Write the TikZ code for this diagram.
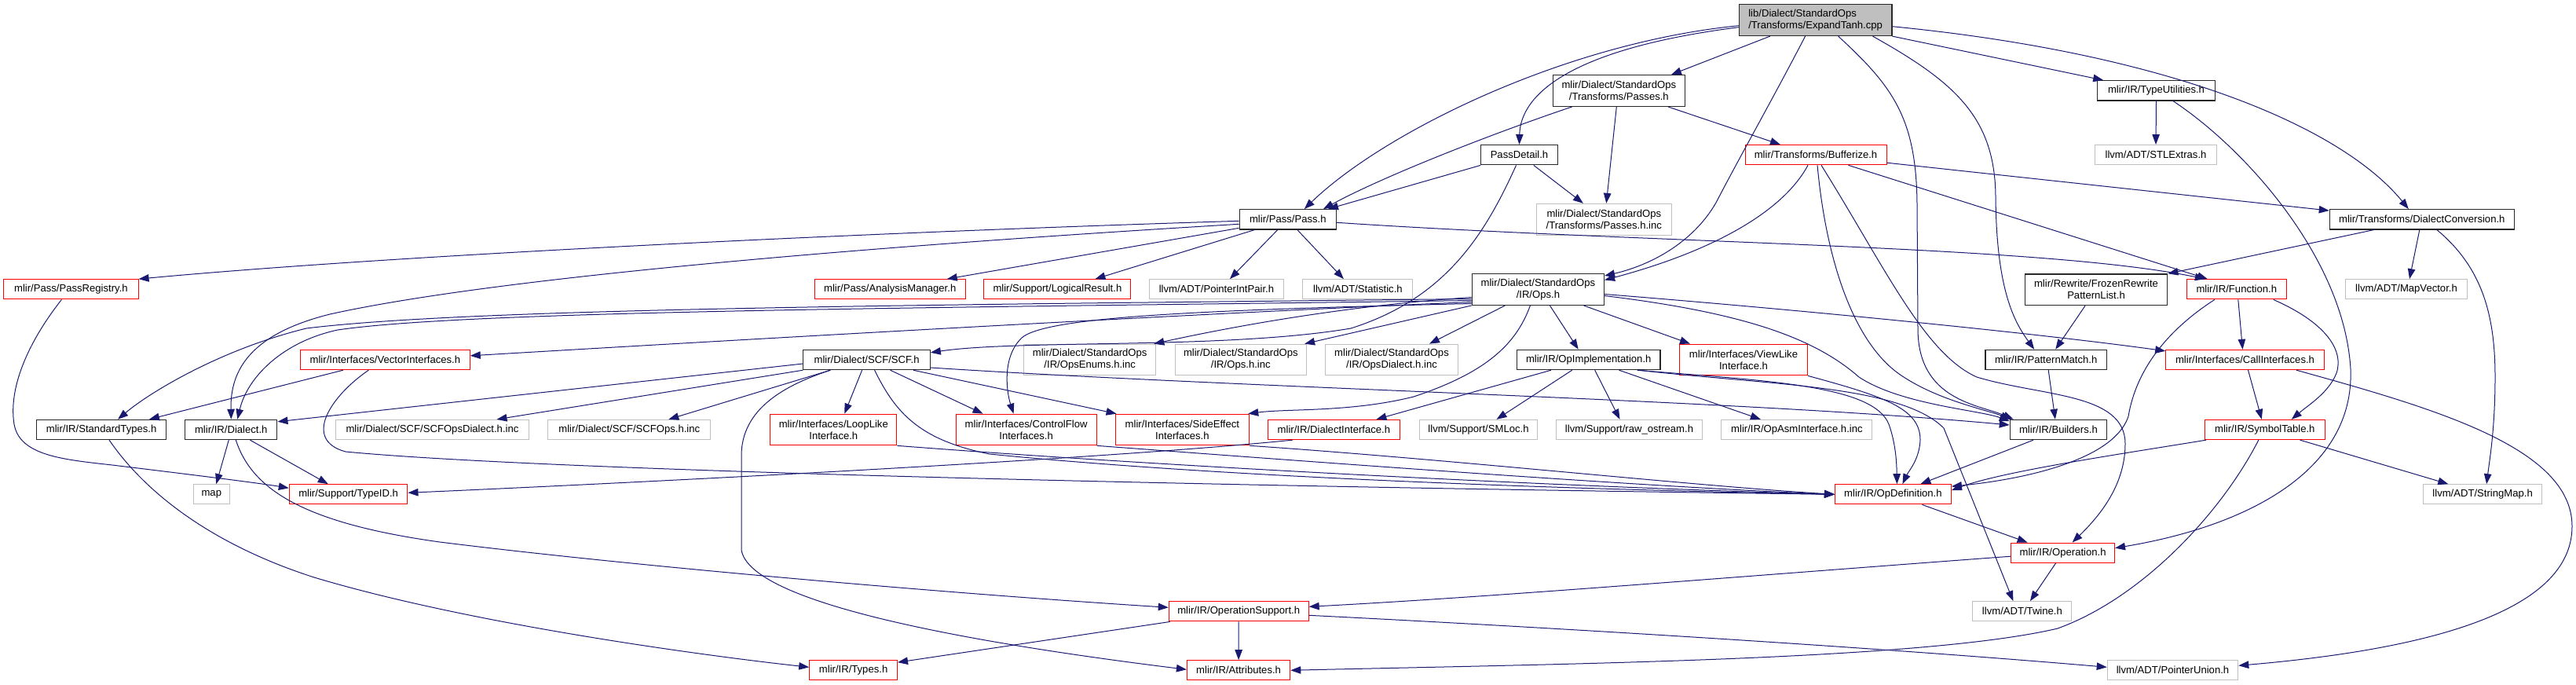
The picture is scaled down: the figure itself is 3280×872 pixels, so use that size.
\documentclass[tikz,border=0pt]{standalone}
\usepackage{fontspec}
\setmainfont{Liberation Sans}
\usetikzlibrary{arrows.meta,calc}
\definecolor{edgec}{RGB}{25,25,112}
\definecolor{greyb}{RGB}{191,191,191}
\definecolor{redb}{RGB}{255,0,0}
\definecolor{blackb}{RGB}{40,40,40}
\begin{document}
\begin{tikzpicture}[x=1pt,y=-1pt,
  nb/.style={rectangle, inner xsep=2pt, inner ysep=0pt, minimum height=25.3pt, font=\fontsize{13.1pt}{15pt}\selectfont, align=center, line width=1pt, fill=white},
  bk/.style={nb, draw=blackb, line width=1.15pt},
  rd/.style={nb, draw=redb},
  gy/.style={nb, draw=greyb},
  two/.style={minimum height=39.7pt},
  dep/.style={draw=edgec, line width=1pt, -{Triangle[length=13pt,width=9.5pt]}},
]
\useasboundingbox (0,0) rectangle (3280,872);
% ---------- nodes ----------
\node[bk, two, fill=greyb, align=left, minimum width=194.6pt] (root) at (2311.6,25.7) {lib/Dialect/StandardOps\\/Transforms/ExpandTanh.cpp};
\node[bk, two, minimum width=168pt] (passes) at (2061.3,115.5) {mlir/Dialect/StandardOps\\/Transforms/Passes.h};
\node[bk, minimum width=149.5pt] (typeutil) at (2745.5,115.3) {mlir/IR/TypeUtilities.h};
\node[bk, minimum width=97.5pt] (passdetail) at (1934.5,197.2) {PassDetail.h};
\node[rd, minimum width=180pt] (bufferize) at (2312,197.2) {mlir/Transforms/Bufferize.h};
\node[gy, minimum width=154.5pt] (stlextras) at (2745,197.2) {llvm/ADT/STLExtras.h};
\node[bk, minimum width=123.2pt] (pass) at (1639.8,279.3) {mlir/Pass/Pass.h};
\node[gy, two, minimum width=171.8pt] (passesinc) at (2042.3,279.2) {mlir/Dialect/StandardOps\\/Transforms/Passes.h.inc};
\node[bk, minimum width=235pt] (dialectconv) at (3083.8,279.3) {mlir/Transforms/DialectConversion.h};
\node[rd, minimum width=171.4pt] (passregistry) at (90.4,368.3) {mlir/Pass/PassRegistry.h};
\node[rd, minimum width=192.2pt] (analysis) at (1133.2,368.3) {mlir/Pass/AnalysisManager.h};
\node[rd, minimum width=187.1pt] (logical) at (1346.4,368.3) {mlir/Support/LogicalResult.h};
\node[gy, minimum width=171.4pt] (ptrintpair) at (1548.9,368.3) {llvm/ADT/PointerIntPair.h};
\node[gy, minimum width=140pt] (statistic) at (1728.9,368.3) {llvm/ADT/Statistic.h};
\node[bk, two, minimum width=168.2pt] (opsh) at (1958.4,368.5) {mlir/Dialect/StandardOps\\/IR/Ops.h};
\node[bk, two, minimum width=181.7pt] (frozen) at (2669,368.8) {mlir/Rewrite/FrozenRewrite\\PatternList.h};
\node[rd, minimum width=126.9pt] (function) at (2847.8,368.3) {mlir/IR/Function.h};
\node[gy, minimum width=154.6pt] (mapvector) at (3064,368.3) {llvm/ADT/MapVector.h};
\node[rd, minimum width=215.7pt] (vectorif) at (490.4,458) {mlir/Interfaces/VectorInterfaces.h};
\node[bk, minimum width=161.4pt] (scf) at (1103.6,458) {mlir/Dialect/SCF/SCF.h};
\node[gy, two, minimum width=168.2pt] (opsenums) at (1387.7,458) {mlir/Dialect/StandardOps\\/IR/OpsEnums.h.inc};
\node[gy, two, minimum width=167.6pt] (opsinc) at (1579.8,458) {mlir/Dialect/StandardOps\\/IR/Ops.h.inc};
\node[gy, two, minimum width=168.2pt] (opsdialect) at (1772,458) {mlir/Dialect/StandardOps\\/IR/OpsDialect.h.inc};
\node[bk, minimum width=182.5pt] (opimpl) at (2022.7,458) {mlir/IR/OpImplementation.h};
\node[rd, two, minimum width=162.8pt] (viewlike) at (2220,458) {mlir/Interfaces/ViewLike\\Interface.h};
\node[bk, minimum width=154.6pt] (patternmatch) at (2605.2,458) {mlir/IR/PatternMatch.h};
\node[rd, minimum width=201.6pt] (callif) at (2858.5,458) {mlir/Interfaces/CallInterfaces.h};
\node[bk, minimum width=164.6pt] (standardtypes) at (129.1,547) {mlir/IR/StandardTypes.h};
\node[bk, minimum width=117.2pt] (dialecth) at (294.3,547) {mlir/IR/Dialect.h};
\node[gy, minimum width=246.8pt] (scfopsdialect) at (550.5,547) {mlir/Dialect/SCF/SCFOpsDialect.h.inc};
\node[gy, minimum width=206.7pt] (scfops) at (801.3,547) {mlir/Dialect/SCF/SCFOps.h.inc};
\node[rd, two, minimum width=161.1pt] (looplike) at (1061.3,547) {mlir/Interfaces/LoopLike\\Interface.h};
\node[rd, two, minimum width=179pt] (controlflow) at (1306.6,547) {mlir/Interfaces/ControlFlow\\Interfaces.h};
\node[rd, two, minimum width=170.7pt] (sideeffect) at (1505.4,547) {mlir/Interfaces/SideEffect\\Interfaces.h};
\node[rd, minimum width=168.2pt] (dialectif) at (1698.4,547) {mlir/IR/DialectInterface.h};
\node[gy, minimum width=150.8pt] (smloc) at (1882.5,547) {llvm/Support/SMLoc.h};
\node[gy, minimum width=185.3pt] (rawostream) at (2074.5,547) {llvm/Support/raw\_ostream.h};
\node[gy, minimum width=192.1pt] (opasm) at (2287.9,547) {mlir/IR/OpAsmInterface.h.inc};
\node[bk, minimum width=123.2pt] (builders) at (2620.9,547) {mlir/IR/Builders.h};
\node[rd, minimum width=152.4pt] (symboltable) at (2883.8,547) {mlir/IR/SymbolTable.h};
\node[gy, minimum width=46.4pt] (map) at (269.3,629.3) {map};
\node[rd, minimum width=150.7pt] (typeid) at (443.6,629.3) {mlir/Support/TypeID.h};
\node[rd, minimum width=147.9pt] (opdefinition) at (2410.4,629.3) {mlir/IR/OpDefinition.h};
\node[gy, minimum width=150.6pt] (stringmap) at (3161.1,629.3) {llvm/ADT/StringMap.h};
\node[rd, minimum width=131.8pt] (operation) at (2626.6,703.7) {mlir/IR/Operation.h};
\node[rd, minimum width=177.9pt] (opsupport) at (1577.2,778.3) {mlir/IR/OperationSupport.h};
\node[gy, minimum width=126.1pt] (twine) at (2574.9,778.3) {llvm/ADT/Twine.h};
\node[rd, minimum width=111.8pt] (types) at (1086.6,853.3) {mlir/IR/Types.h};
\node[rd, minimum width=131.4pt] (attributes) at (1577.1,853.3) {mlir/IR/Attributes.h};
\node[gy, minimum width=166.6pt] (pointerunion) at (2766.5,853.3) {llvm/ADT/PointerUnion.h};
% ---------- edges ----------
% root
\draw[dep] ($(root.west)+(0,7)$) .. controls (1990,55) and (1760,170) .. ($(pass.north)+(21,0)$);
\draw[dep] ($(root.west)+(0,9)$) .. controls (2000,62) and (1936,120) .. (passdetail.north);
\draw[dep] ($(root.south west)+(40,0)$) -- ($(passes.north east)+(-18,0)$);
\draw[dep] ($(root.south)+(-13,0)$) .. controls (2255,130) and (2215,200) .. (2185,258) .. controls (2155,310) and (2100,338) .. ($(opsh.north east)+(0,3)$);
\draw[dep] (root.south east) -- ($(typeutil.north west)+(8,0)$);
\draw[dep] ($(root.east)+(0,8)$) .. controls (2760,68) and (2980,160) .. ($(dialectconv.north)+(-17,0)$);
\draw[dep] ($(root.south)+(29,0)$) .. controls (2410,110) and (2440,150) .. (2441,260) -- (2442,420) .. controls (2443,510) and (2520,515) .. ($(builders.north west)+(5,0)$);
\draw[dep] ($(root.south east)+(-25,0)$) .. controls (2490,105) and (2540,150) .. (2541,250) .. controls (2542,370) and (2565,410) .. ($(patternmatch.north)+(-15,0)$);
% passes / passdetail
\draw[dep] ($(passes.south west)+(25,0)$) .. controls (1900,170) and (1760,225) .. ($(pass.north east)+(-17,0)$);
\draw[dep] ($(passes.south)+(-3,0)$) -- ($(passesinc.north)+(3,0)$);
\draw[dep] ($(passes.south east)+(-22,0)$) -- ($(bufferize.north)+(-45,0)$);
\draw[dep] (passdetail.south west) -- ($(pass.north east)+(-11,0)$);
\draw[dep] ($(passdetail.south east)+(-31,0)$) -- ($(passesinc.north west)+(60,0)$);
\draw[dep] ($(passdetail.south)+(-4,0)$) .. controls (1890,300) and (1840,380) .. (1720,418) .. controls (1560,445) and (1300,432) .. ($(scf.north east)+(0,4)$);
% bufferize
\draw[dep] ($(bufferize.south)+(-10,0)$) .. controls (2270,270) and (2180,320) .. ($(opsh.east)+(0,-12)$);
\draw[dep] ($(bufferize.south)+(2,0)$) .. controls (2325,330) and (2360,440) .. (2424,480) .. controls (2470,510) and (2530,522) .. ($(builders.north west)+(2,0)$);
\draw[dep] ($(bufferize.south)+(7,0)$) .. controls (2400,340) and (2450,450) .. (2517,480) .. controls (2600,505) and (2706,500) .. (2706,565) .. controls (2706,620) and (2670,660) .. ($(operation.north)+(12,0)$);
\draw[dep] ($(bufferize.south east)+(-49,0)$) -- ($(function.north west)+(27,0)$);
\draw[dep] ($(bufferize.east)+(0,10)$) -- ($(dialectconv.north west)+(0,2)$);
% pass
\draw[dep] ($(pass.east)+(0,4)$) .. controls (2100,310) and (2600,312) .. ($(function.north west)+(24,0)$);
\draw[dep] ($(pass.west)+(0,2)$) .. controls (1100,296) and (500,325) .. (passregistry.north east);
\draw[dep] ($(pass.west)+(0,6)$) .. controls (1000,320) and (600,360) .. (420,400) .. controls (320,425) and (293,470) .. (dialecth.north);
\draw[dep] ($(pass.west)+(0,11)$) -- ($(analysis.north east)+(-24,0)$);
\draw[dep] ($(pass.south west)+(20,0)$) -- ($(logical.north east)+(-46,0)$);
\draw[dep] ($(pass.south)+(-13,0)$) -- ($(ptrintpair.north)+(17,0)$);
\draw[dep] ($(pass.south)+(12,0)$) -- ($(statistic.north)+(-18,0)$);
% ops.h
\draw[dep] ($(opsh.west)+(0,14)$) .. controls (1200,392) and (600,395) .. (430,420) .. controls (360,435) and (315,480) .. ($(dialecth.north)+(8,0)$);
\draw[dep] ($(opsh.west)+(0,12)$) .. controls (1200,388) and (600,392) .. (390,418) .. controls (280,445) and (190,500) .. ($(standardtypes.north)+(21,0)$);
\draw[dep] ($(opsh.west)+(0,16)$) .. controls (1500,400) and (900,435) .. ($(vectorif.north east)+(0,8)$);
\draw[dep] ($(opsh.west)+(0,18)$) .. controls (1500,395) and (1330,405) .. (1301,430) .. controls (1275,455) and (1282,500) .. ($(controlflow.north)+(-16,0)$);
\draw[dep] ($(opsh.west)+(0,10)$) .. controls (1700,390) and (1550,420) .. ($(opsenums.north east)+(-3,0)$);
\draw[dep] (opsh.south west) -- ($(opsinc.north east)+(-3,0)$);
\draw[dep] ($(opsh.south)+(-42,0)$) -- ($(opsdialect.north)+(48,0)$);
\draw[dep] ($(opsh.south)+(-10,0)$) .. controls (1930,440) and (1890,475) .. (1800,505) .. controls (1720,525) and (1640,520) .. ($(sideeffect.north east)+(-2,0)$);
\draw[dep] ($(opsh.south)+(15,0)$) -- ($(opimpl.north)+(-13,0)$);
\draw[dep] ($(opsh.south)+(58,0)$) -- ($(viewlike.north)+(-68,0)$);
\draw[dep] ($(opsh.east)+(0,6)$) .. controls (2300,395) and (2600,425) .. ($(callif.north west)+(0,2)$);
\draw[dep] ($(opsh.east)+(0,8)$) .. controls (2220,398) and (2310,430) .. (2367,480) .. controls (2420,515) and (2520,522) .. ($(builders.west)+(0,-11)$);
% typeutil / dialectconv / frozen
\draw[dep] (typeutil.south) -- (stlextras.north);
\draw[dep] ($(typeutil.south east)+(-54,0)$) .. controls (2860,190) and (2985,330) .. (2993,470) .. controls (2998,600) and (2860,670) .. ($(operation.east)+(0,-6)$);
\draw[dep] ($(dialectconv.south west)+(57,0)$) -- (frozen.north east);
\draw[dep] ($(dialectconv.south)+(-3,0)$) -- ($(mapvector.north)+(4,0)$);
\draw[dep] ($(dialectconv.south)+(19,0)$) .. controls (3160,340) and (3177,400) .. (3177,480) .. controls (3177,545) and (3170,585) .. ($(stringmap.north)+(5,0)$);
\draw[dep] ($(frozen.south)+(-14,0)$) -- ($(patternmatch.north)+(12,0)$);
% function / callif / symboltable
\draw[dep] ($(function.south)+(2,0)$) -- ($(callif.north)+(-3,0)$);
\draw[dep] ($(function.south east)+(-17,0)$) .. controls (2960,410) and (2985,445) .. (2975,475) .. controls (2965,500) and (2940,515) .. ($(symboltable.north)+(34,0)$);
\draw[dep] ($(function.south)+(-28,0)$) .. controls (2760,420) and (2720,470) .. (2710,530) .. controls (2690,590) and (2560,612) .. ($(opdefinition.north east)+(0,3)$);
\draw[dep] ($(patternmatch.south)+(3,0)$) -- ($(builders.north)+(-4,0)$);
\draw[dep] ($(callif.south)+(4,0)$) -- ($(symboltable.north)+(-4,0)$);
\draw[dep] ($(callif.south east)+(-36,0)$) .. controls (3100,520) and (3275,570) .. (3275,670) .. controls (3275,790) and (3050,830) .. ($(pointerunion.east)+(0,-6)$);
\draw[dep] ($(symboltable.south west)+(2,0)$) .. controls (2700,578) and (2550,600) .. ($(opdefinition.north east)+(0,8)$);
\draw[dep] ($(symboltable.south east)+(-32,0)$) -- ($(stringmap.north west)+(32,0)$);
\draw[dep] ($(symboltable.south)+(-8,0)$) .. controls (2830,650) and (2730,760) .. (2620,800) .. controls (2450,840) and (2000,845) .. (attributes.east);
% builders / opdefinition / operation
\draw[dep] ($(builders.south)+(-32,0)$) -- ($(opdefinition.north)+(35,0)$);
\draw[dep] ($(opdefinition.south)+(37,0)$) -- ($(operation.north)+(-45,0)$);
\draw[dep] ($(operation.south)+(-9,0)$) -- ($(twine.north)+(10,0)$);
\draw[dep] ($(operation.west)+(0,4.5)$) .. controls (2200,735) and (1900,760) .. ($(opsupport.east)+(0,-6)$);
% opimplementation
\draw[dep] ($(opimpl.south east)+(-28,0)$) .. controls (2250,490) and (2420,490) .. (2475,545) -- ($(twine.north west)+(52,0)$);
\draw[dep] ($(opimpl.south east)+(-30,0)$) .. controls (2250,485) and (2385,490) .. (2405,540) .. controls (2414,565) and (2415,590) .. ($(opdefinition.north)+(5,0)$);
\draw[dep] (viewlike.south east) .. controls (2400,505) and (2445,520) .. (2445,560) .. controls (2444,585) and (2430,600) .. ($(opdefinition.north)+(12,0)$);
\draw[dep] ($(opimpl.south east)+(-53,0)$) -- ($(opasm.north)+(-46,0)$);
\draw[dep] ($(opimpl.south west)+(44,0)$) -- ($(dialectif.north)+(54,0)$);
\draw[dep] ($(opimpl.south)+(-21,0)$) -- ($(smloc.north)+(23,0)$);
\draw[dep] ($(opimpl.south)+(8,0)$) -- ($(rawostream.north)+(-12,0)$);
% interfaces -> opdefinition
\draw[dep] ($(dialectif.south west)+(32,0)$) .. controls (1400,585) and (800,615) .. ($(typeid.east)+(0,-2)$);
\draw[dep] (looplike.south east) .. controls (1500,595) and (2000,620) .. (opdefinition.west);
\draw[dep] (controlflow.south east) .. controls (1700,590) and (2100,620) .. (opdefinition.west);
\draw[dep] (sideeffect.south east) .. controls (1850,585) and (2150,618) .. (opdefinition.west);
\draw[dep] ($(scf.south)+(10,0)$) .. controls (1140,525) and (1170,560) .. (1260,578) .. controls (1600,612) and (2100,625) .. (opdefinition.west);
\draw[dep] ($(vectorif.south)+(-21,0)$) .. controls (420,505) and (385,560) .. (440,575) .. controls (700,600) and (1600,620) .. (opdefinition.west);
\draw[dep] ($(vectorif.south west)+(55,0)$) -- ($(standardtypes.north east)+(-22,0)$);
% scf
\draw[dep] ($(scf.west)+(0,5)$) -- ($(dialecth.north east)+(0,3)$);
\draw[dep] (scf.south west) -- ($(scfopsdialect.north)+(82,0)$);
\draw[dep] ($(scf.south west)+(35,0)$) -- ($(scfops.north)+(50,0)$);
\draw[dep] ($(scf.south)+(-6,0)$) -- ($(looplike.north)+(14,0)$);
\draw[dep] ($(scf.south)+(30,0)$) -- ($(controlflow.north)+(-55,0)$);
\draw[dep] ($(scf.south east)+(-22,0)$) -- ($(sideeffect.north west)+(2,0)$);
\draw[dep] ($(scf.east)+(0,10)$) .. controls (1600,495) and (2200,508) .. ($(builders.west)+(0,-6)$);
\draw[dep] ($(scf.south west)+(35,0)$) .. controls (1000,490) and (944,520) .. (944,580) -- (944,700) .. controls (955,770) and (1250,820) .. ($(attributes.west)+(0,-1)$);
% left part
\draw[dep] ($(passregistry.south)+(-12,0)$) .. controls (40,430) and (10,490) .. (18,540) .. controls (25,580) and (80,585) .. (143,592) .. controls (250,605) and (330,615) .. ($(typeid.west)+(0,-8)$);
\draw[dep] ($(dialecth.south)+(-3,0)$) -- ($(map.north)+(6,0)$);
\draw[dep] ($(dialecth.south east)+(-35,0)$) -- ($(typeid.north west)+(50,0)$);
\draw[dep] ($(dialecth.south)+(6,0)$) .. controls (320,620) and (380,665) .. (560,690) .. controls (800,720) and (1200,755) .. ($(opsupport.west)+(0,-5)$);
\draw[dep] ($(standardtypes.south)+(10,0)$) .. controls (180,620) and (260,690) .. (400,735) .. controls (600,795) and (900,835) .. ($(types.west)+(0,-4)$);
% operation support
\draw[dep] ($(opsupport.south west)+(2,0)$) -- ($(types.north east)+(0,3)$);
\draw[dep] (opsupport.south) -- (attributes.north);
\draw[dep] ($(opsupport.east)+(0,5)$) .. controls (2000,800) and (2400,825) .. ($(pointerunion.west)+(0,-4)$);
\end{tikzpicture}
\end{document}
